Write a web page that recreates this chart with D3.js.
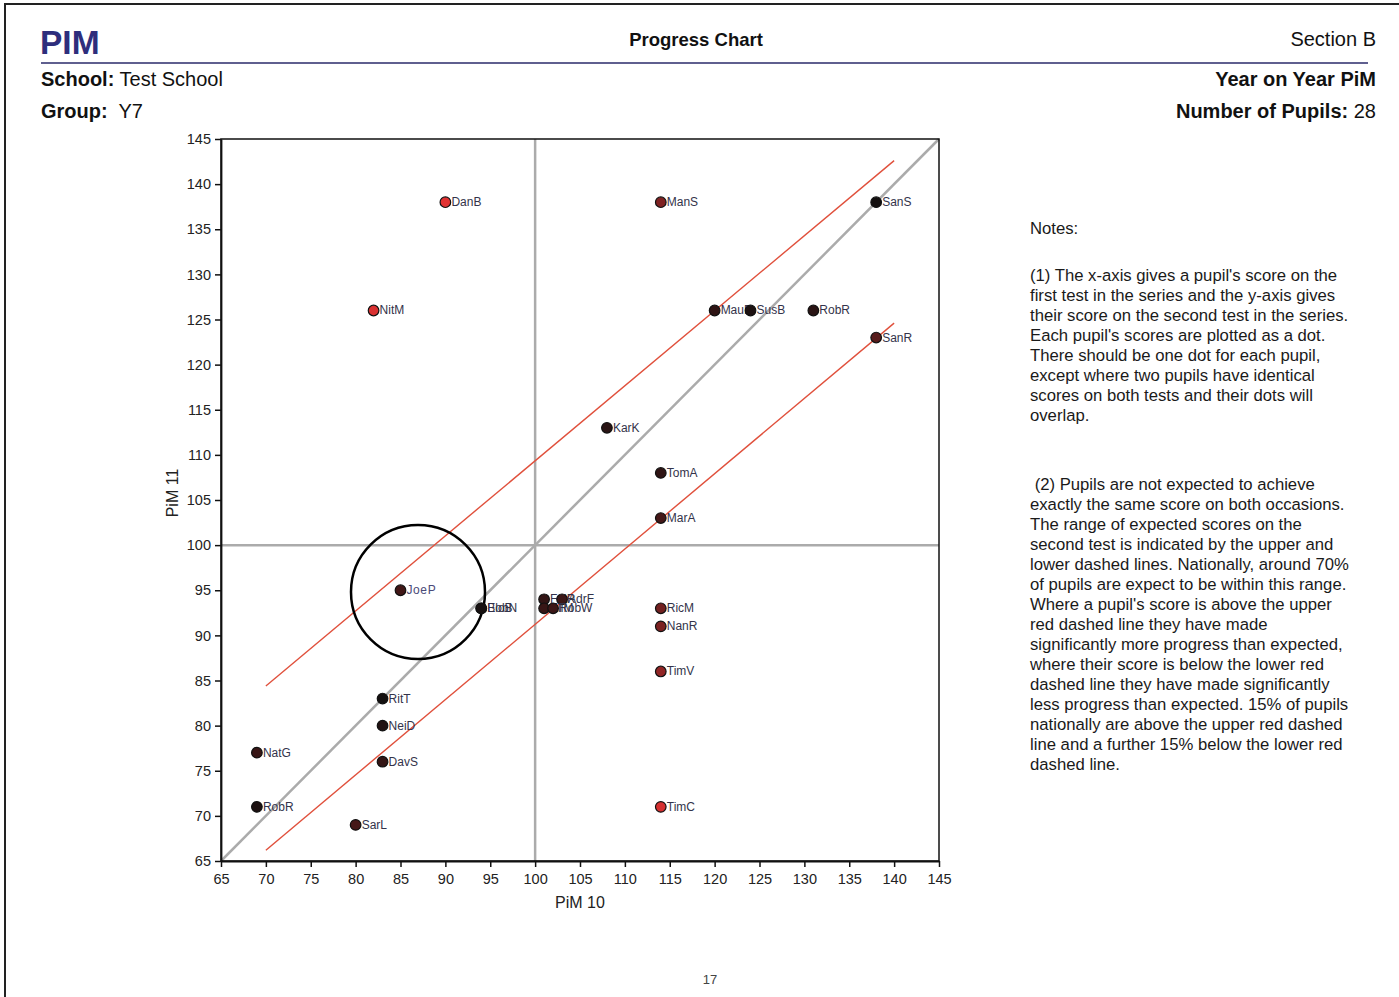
<!DOCTYPE html>
<html>
<head>
<meta charset="utf-8">
<script src="https://cdn.jsdelivr.net/npm/d3@7"></script>
<style>
  html, body { margin: 0; padding: 0; background: #fff; }
  svg { display: block; font-family: "Liberation Sans", Arial, sans-serif; }
</style>
</head>
<body>
<svg id="chart" width="1399" height="997"></svg>
<script>
// ---- Data ----
const pupilNames = ["DanB","ManS","SanS","NitM","MauB","SusB","RobR","SanR","KarK","TomA","MarA",
  "JoeP","BobN","EloB","FelR","AdrF","EllM","RobW","RicM","NanR","TimV","TimC",
  "RitT","NeiD","DavS","NatG","RobR","SarL"];
const pim10 = [90,114,138,82,120,124,131,138,108,114,114,
  85,94,94,101,103,101,102,114,114,114,114,
  83,83,83,69,69,80];
const pim11 = [138,138,138,126,126,126,126,123,113,108,103,
  95,93,93,94,94,93,93,93,91,86,71,
  83,80,76,77,71,69];
const xTicks = [65,70,75,80,85,90,95,100,105,110,115,120,125,130,135,140,145];
const yTicks = [65,70,75,80,85,90,95,100,105,110,115,120,125,130,135,140,145];
const axisDomain = [65,145];
const midScore = 100;
const upperLine = [[70,84.4],[140,142.6]];
const lowerLine = [[70,66.2],[140,124.6]];
const highlight = {x: 86.95, y: 94.8};

const notesTitle = "Notes:";
const note1 = ["(1) The x-axis gives a pupil's score on the",
  "first test in the series and the y-axis gives",
  "their score on the second test in the series.",
  "Each pupil's scores are plotted as a dot.",
  "There should be one dot for each pupil,",
  "except where two pupils have identical",
  "scores on both tests and their dots will",
  "overlap."];
const note2 = [" (2) Pupils are not expected to achieve",
  "exactly the same score on both occasions.",
  "The range of expected scores on the",
  "second test is indicated by the upper and",
  "lower dashed lines. Nationally, around 70%",
  "of pupils are expect to be within this range.",
  "Where a pupil's score is above the upper",
  "red dashed line they have made",
  "significantly more progress than expected,",
  "where their score is below the lower red",
  "dashed line they have made significantly",
  "less progress than expected. 15% of pupils",
  "nationally are above the upper red dashed",
  "line and a further 15% below the lower red",
  "dashed line."];

// ---- Drawing ----
const svg = d3.select("#chart");

// page border
svg.append("rect").attr("x",5).attr("y",4).attr("width",1500).attr("height",1100)
  .attr("fill","none").attr("stroke","#222").attr("stroke-width",2);

// header
svg.append("text").attr("x",40).attr("y",54).attr("font-size",33.5).attr("font-weight","bold")
  .attr("fill","#2e2e7c").text("PIM");
svg.append("text").attr("x",696).attr("y",46).attr("text-anchor","middle").attr("font-size",18.5)
  .attr("font-weight","bold").attr("fill","#111").text("Progress Chart");
svg.append("text").attr("x",1376).attr("y",46).attr("text-anchor","end").attr("font-size",20)
  .attr("fill","#111").text("Section B");
svg.append("line").attr("x1",41).attr("x2",1368).attr("y1",63).attr("y2",63)
  .attr("stroke","#5f5f8f").attr("stroke-width",2);

const s1 = svg.append("text").attr("x",41).attr("y",86).attr("font-size",20).attr("fill","#111");
s1.append("tspan").attr("font-weight","bold").text("School:");
s1.append("tspan").text(" Test School");
const s2 = svg.append("text").attr("x",41).attr("y",118).attr("font-size",20).attr("fill","#111");
s2.append("tspan").attr("font-weight","bold").text("Group:");
s2.append("tspan").text("\u00a0 Y7");
svg.append("text").attr("x",1376).attr("y",86).attr("text-anchor","end").attr("font-size",20)
  .attr("font-weight","bold").attr("fill","#111").text("Year on Year PiM");
const s3 = svg.append("text").attr("x",1376).attr("y",118).attr("text-anchor","end").attr("font-size",20).attr("fill","#111");
s3.append("tspan").attr("font-weight","bold").text("Number of Pupils:");
s3.append("tspan").text(" " + pupilNames.length);

// scales
const x = d3.scaleLinear().domain(axisDomain).range([221,939]);
const y = d3.scaleLinear().domain(axisDomain).range([861,139]);

const plot = svg.append("g");

// reference lines (grey)
const grey = "#ababab";
plot.append("line").attr("x1",x(midScore)).attr("x2",x(midScore)).attr("y1",y(axisDomain[0])).attr("y2",y(axisDomain[1]))
  .attr("stroke",grey).attr("stroke-width",2.5);
plot.append("line").attr("x1",x(axisDomain[0])).attr("x2",x(axisDomain[1])).attr("y1",y(midScore)).attr("y2",y(midScore))
  .attr("stroke",grey).attr("stroke-width",2.5);
plot.append("line").attr("x1",x(axisDomain[0])).attr("x2",x(axisDomain[1])).attr("y1",y(axisDomain[0])).attr("y2",y(axisDomain[1]))
  .attr("stroke",grey).attr("stroke-width",2.5);

// expectation band (red)
const lineGen = d3.line().x(d => x(d[0])).y(d => y(d[1]));
[upperLine, lowerLine].forEach(l => {
  plot.append("path").attr("d", lineGen(l)).attr("fill","none")
    .attr("stroke","#e0503c").attr("stroke-width",1.4);
});

// frame
plot.append("rect").attr("x",x(axisDomain[0])).attr("y",y(axisDomain[1]))
  .attr("width",x(axisDomain[1])-x(axisDomain[0])).attr("height",y(axisDomain[0])-y(axisDomain[1]))
  .attr("fill","none").attr("stroke","#111").attr("stroke-width",1.5);

// axes
const xAxis = svg.append("g").attr("transform",`translate(0,${y(axisDomain[0])})`)
  .call(d3.axisBottom(x).tickValues(xTicks).tickSize(6).tickSizeOuter(0).tickFormat(d3.format("d")));
const yAxis = svg.append("g").attr("transform",`translate(${x(axisDomain[0])},0)`)
  .call(d3.axisLeft(y).tickValues(yTicks).tickSize(6).tickSizeOuter(0).tickFormat(d3.format("d")));
[xAxis, yAxis].forEach(a => {
  a.selectAll("path").attr("stroke","#111").attr("stroke-width",1.8);
  a.selectAll("line").attr("stroke","#111").attr("stroke-width",1.5);
  a.selectAll("text").attr("font-size",14.5).attr("fill","#222")
    .attr("font-family","'Liberation Sans', Arial, sans-serif");
});
xAxis.selectAll("text").attr("dy","0.95em");
yAxis.selectAll("text").attr("dx","-1px");

svg.append("text").attr("x",580).attr("y",908).attr("text-anchor","middle").attr("font-size",16)
  .attr("fill","#222").text("PiM 10");
svg.append("text").attr("transform","translate(178,493) rotate(-90)").attr("text-anchor","middle")
  .attr("font-size",16).attr("fill","#222").text("PiM 11");

// highlight circle
plot.append("circle").attr("cx",x(highlight.x)).attr("cy",y(highlight.y)).attr("r",67)
  .attr("fill","none").attr("stroke","#000").attr("stroke-width",2.5);

// points
const color = d3.scaleLinear().domain([0,46]).range(["#141010","#e23232"]).clamp(true);
const pts = pupilNames.map((n,i) => ({name:n, a:pim10[i], b:pim11[i]}));
pts.forEach(p => {
  const g = plot.append("g");
  g.append("circle").attr("cx",x(p.a)).attr("cy",y(p.b)).attr("r",5.3)
    .attr("fill",color(Math.abs(p.b - p.a))).attr("stroke","#111").attr("stroke-width",1.2);
  g.append("text").attr("x",x(p.a)+6).attr("y",y(p.b)+4).attr("font-size",12)
    .attr("fill", p.name === "JoeP" ? "#4a4a78" : "#33334a")
    .attr("letter-spacing", p.name === "JoeP" ? "0.6px" : null)
    .text(p.name);
});

// notes
const notes = svg.append("g").attr("font-size",16.7).attr("fill","#1a1a1a");
notes.append("text").attr("x",1030).attr("y",234).text(notesTitle);
note1.forEach((t,i) => notes.append("text").attr("x",1030).attr("y",281+i*20).attr("xml:space","preserve").text(t));
note2.forEach((t,i) => notes.append("text").attr("x",1030).attr("y",490+i*20).attr("xml:space","preserve").text(t));

// page number
svg.append("text").attr("x",710).attr("y",984).attr("text-anchor","middle").attr("font-size",13)
  .attr("fill","#444").text("17");
</script>
</body>
</html>
